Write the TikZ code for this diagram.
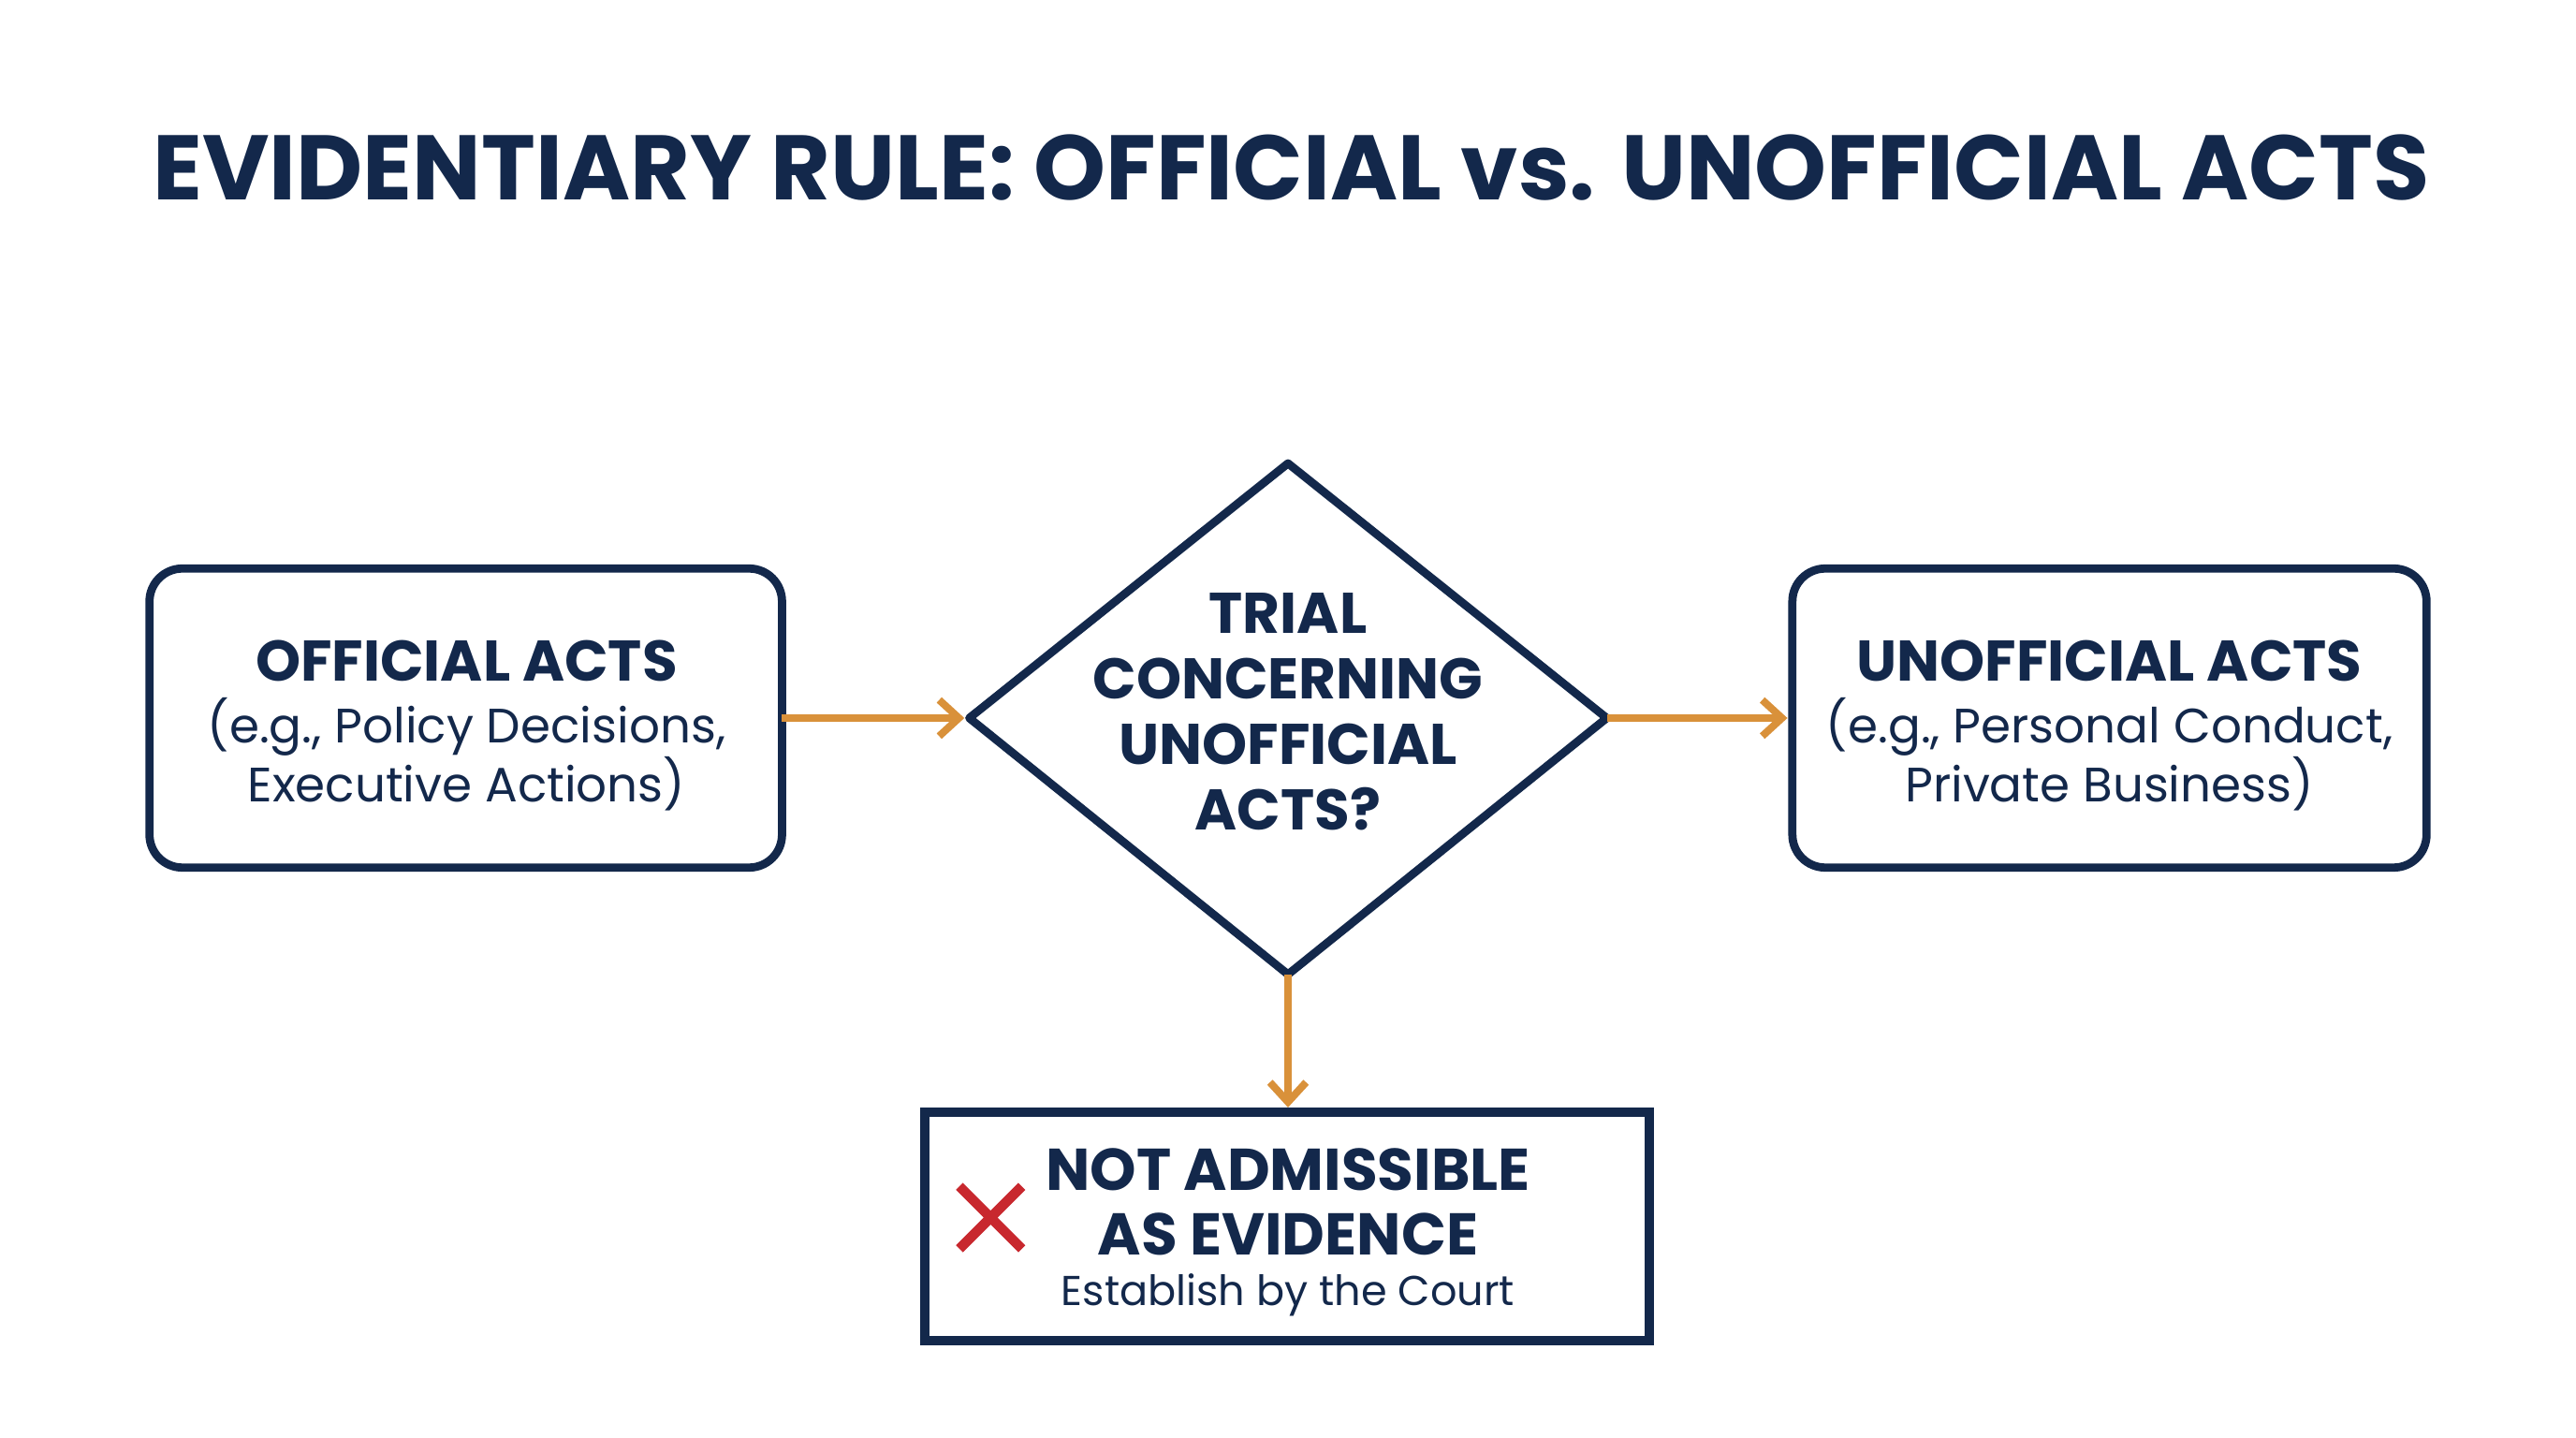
\documentclass[tikz,border=0pt]{standalone}
\usepackage{fontspec}
\setmainfont{Poppins}
\usetikzlibrary{arrows.meta}
\definecolor{navy}{HTML}{13284B}
\definecolor{org}{HTML}{D9913A}
\definecolor{xred}{HTML}{C8282E}
\begin{document}
\begin{tikzpicture}[x=1bp,y=-1bp,
  box/.style={draw=navy,line width=5bp,rounded corners=20bp},
  head/.style={text=navy,font=\fontsize{35}{40}\selectfont\bfseries},
  sub/.style={text=navy,font=\fontsize{29.5}{36}\selectfont},
  arr/.style={draw=org,line width=4.5bp,-{Straight Barb[length=12bp,width=22bp,line width=4.5bp]}}]
\useasboundingbox (0,0) rectangle (1568,875);
\node[text=navy,font=\fontsize{56}{64}\selectfont\bfseries] (title) at (786,102) {EVIDENTIARY RULE: OFFICIAL vs. UNOFFICIAL ACTS};
\draw[box] (91,346) rectangle (476,528);
\coordinate (lb) at (476,437);
\node[head] (l1) at (284,402) {OFFICIAL ACTS};
\node[sub,align=center] (l2) at (284,459) {(e.g., Policy Decisions,\\Executive Actions)};
\draw[box] (1091,346) rectangle (1477,528);
\coordinate (rb) at (1091,437);
\node[head] (r1) at (1284,402) {UNOFFICIAL ACTS};
\node[sub,align=center] (r2) at (1284,459) {(e.g., Personal Conduct,\\Private Business)};
\draw[draw=navy,line width=5bp,line join=round] (784,282) coordinate (dt) -- (978,437) coordinate (dr) -- (784,593) coordinate (db) -- (590,437) coordinate (dl) -- cycle;
\node[head,align=center,font=\fontsize{35}{40}\selectfont\bfseries] (d) at (784,433) {TRIAL\\CONCERNING\\UNOFFICIAL\\ACTS?};
\draw[draw=navy,line width=6bp] (563,677) rectangle (1004,816);
\coordinate (bt) at (784,674);
\node[head,font=\fontsize{36}{40}\selectfont\bfseries] (b1) at (784,712) {NOT ADMISSIBLE};
\node[head,font=\fontsize{36}{40}\selectfont\bfseries] (b2) at (784,751) {AS EVIDENCE};
\node[sub,font=\fontsize{25.5}{30}\selectfont] (b3) at (784,788) {Establish by the Court};
\draw[xred,line width=6bp] (584,722) -- (622,760) (622,722) -- (584,760);
\draw[arr] (lb) -- (587,437);
\draw[arr] (dr) -- (1088,437);
\draw[arr] (db) -- (bt);
\end{tikzpicture}
\end{document}
